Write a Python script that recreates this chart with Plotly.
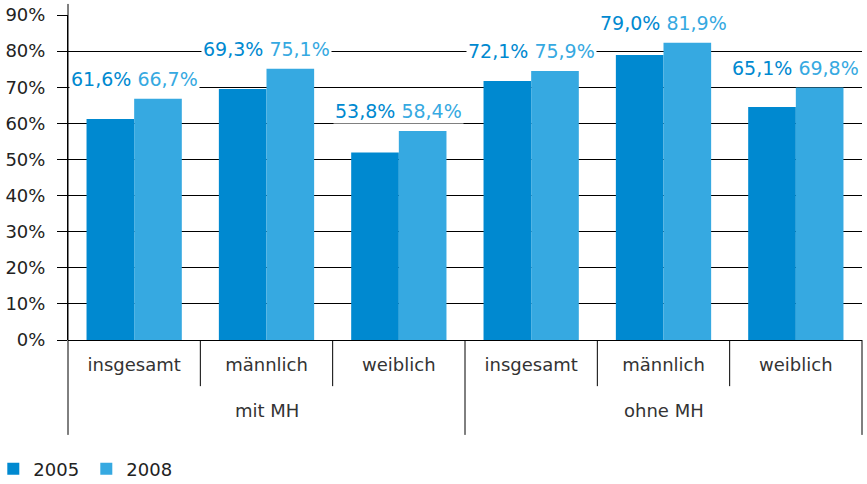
import plotly.graph_objects as go

# two-level categories: origin group / sex
groups = ['mit MH', 'ohne MH']
subgroups = ['insgesamt', 'männlich', 'weiblich', 'insgesamt', 'männlich', 'weiblich']
group_of = [0, 0, 0, 1, 1, 1]

# bar heights as drawn in the source chart (percent)
bars_2005 = [61.2, 69.5, 51.9, 71.7, 78.9, 64.5]
bars_2008 = [66.8, 75.1, 57.9, 74.5, 82.3, 69.9]

# value labels as printed above each pair
labels_2005 = ['61,6%', '69,3%', '53,8%', '72,1%', '79,0%', '65,1%']
labels_2008 = ['66,7%', '75,1%', '58,4%', '75,9%', '81,9%', '69,8%']

y_ticks = [0, 10, 20, 30, 40, 50, 60, 70, 80, 90]
y_ticktext = ['0%', '10%', '20%', '30%', '40%', '50%', '60%', '70%', '80%', '90%']

c2005 = '#0089d0'
c2008 = '#36a9e1'
font_family = 'DejaVu Sans, sans-serif'

idx = list(range(len(subgroups)))

fig = go.Figure()
fig.add_trace(go.Bar(x=idx, y=bars_2005, name='2005', marker=dict(color=c2005, line=dict(width=0))))
fig.add_trace(go.Bar(x=idx, y=bars_2008, name='2008', marker=dict(color=c2008, line=dict(width=0))))

# one white-backed label per pair, above the taller bar
for i in idx:
    fig.add_annotation(
        x=i,
        y=max(bars_2005[i], bars_2008[i]),
        xref='x', yref='y',
        text=f"<span style='color:{c2005}'>{labels_2005[i]}</span> <span style='color:{c2008}'>{labels_2008[i]}</span>",
        showarrow=False,
        yanchor='bottom',
        yshift=7,
        font=dict(size=19, family=font_family),
        bgcolor='white',
        borderpad=1,
    )

# outer group labels
for g, name in enumerate(groups):
    members = [i for i in idx if group_of[i] == g]
    fig.add_annotation(
        x=sum(members) / len(members), y=-0.218,
        xref='x', yref='paper',
        text=name, showarrow=False, yanchor='middle',
        font=dict(size=18, family=font_family, color='#333333'),
    )

# inner dividers between subcategories (paper coords)
n = len(subgroups)
for k in [1, 2, 4, 5]:
    fig.add_shape(type='line', xref='paper', yref='paper', x0=k / n, x1=k / n, y0=0, y1=-0.142,
                  line=dict(color='black', width=1))
# outer dividers and axis line extension
for k in [0, 3, 6]:
    fig.add_shape(type='line', xref='paper', yref='paper', x0=k / n, x1=k / n, y0=0, y1=-0.292,
                  line=dict(color='black', width=1))
fig.add_shape(type='line', xref='paper', yref='paper', x0=0, x1=0, y0=0, y1=1.034,
              line=dict(color='black', width=1))

fig.update_layout(
    width=867,
    height=484,
    margin=dict(l=68, r=5, t=15, b=144, autoexpand=False),
    plot_bgcolor='white',
    paper_bgcolor='white',
    barmode='group',
    bargap=0.28,
    bargroupgap=0,
    font=dict(family=font_family, size=18, color='#222222'),
    showlegend=True,
    legend=dict(
        orientation='h',
        x=-0.084, xanchor='left',
        y=-0.397, yanchor='middle',
        font=dict(size=18, color='#222222'),
        traceorder='normal',
        indentation=-8,
        entrywidth=56,
        entrywidthmode='pixels',
    ),
    xaxis=dict(
        range=[-0.5, 5.5],
        tickvals=idx,
        ticktext=subgroups,
        ticks='',
        ticklabelstandoff=12,
        showgrid=False,
        zeroline=False,
        tickfont=dict(size=18, color='#333333'),
        showline=False,
    ),
    yaxis=dict(
        range=[0, 90],
        tickvals=y_ticks,
        ticktext=y_ticktext,
        ticks='outside',
        ticklen=10,
        tickcolor='black',
        showgrid=True,
        gridcolor='black',
        gridwidth=1,
        zeroline=True,
        zerolinecolor='black',
        zerolinewidth=1,
        showline=True,
        linecolor='black',
        tickfont=dict(size=18, color='#222222'),
        ticklabelstandoff=8,
    ),
)

# drop the default page margin so the figure sits at the window's corner
fig.write_html(
    'out.html',
    config={'displayModeBar': False},
    post_script="document.body.style.margin='0';",
)
